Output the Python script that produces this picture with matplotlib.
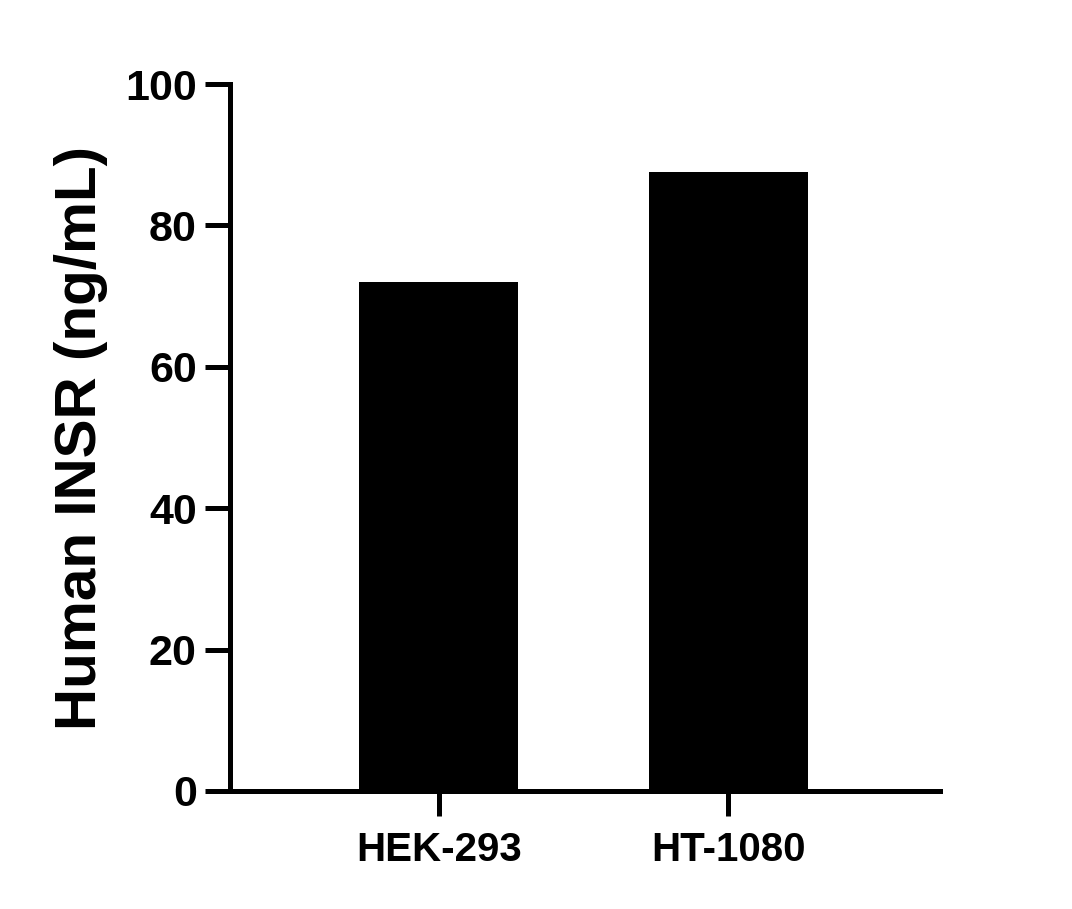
import matplotlib
matplotlib.use("Agg")
import matplotlib.pyplot as plt

cell_lines = ["HEK-293", "HT-1080"]
insr_ngml = [72.0, 87.5]
y_ticks = [0, 20, 40, 60, 80, 100]

plt.rcParams['font.family'] = ['Liberation Sans', 'DejaVu Sans']
plt.rcParams['font.weight'] = 'bold'

fig = plt.figure(figsize=(10.72, 9.09), dpi=100)
ax = fig.add_axes([230 / 1072, 118 / 909, 710 / 1072, 707 / 909])

x = list(range(len(cell_lines)))
ax.bar(x, insr_ngml, width=0.55, color="black", edgecolor="black", linewidth=0)

ax.set_xlim(-0.72, 1.73)
ax.set_ylim(0, 100)
ax.set_yticks(y_ticks)
ax.set_xticks(x)
ax.set_xticklabels(cell_lines)

for side in ["top", "right"]:
    ax.spines[side].set_visible(False)
for side in ["left", "bottom"]:
    ax.spines[side].set_linewidth(3.6)
    ax.spines[side].set_capstyle("projecting")

ax.tick_params(axis="y", length=18, width=3.6, labelsize=31, pad=6)
ax.tick_params(axis="x", length=18, width=3.6, labelsize=29, pad=11)
for lab in ax.get_xticklabels() + ax.get_yticklabels():
    lab.set_fontweight("bold")

ax.set_ylabel("Human INSR (ng/mL)", fontsize=42, fontweight="bold")
ax.yaxis.set_label_coords(-0.172, 0.5)

fig.savefig("out.png", dpi=100)
